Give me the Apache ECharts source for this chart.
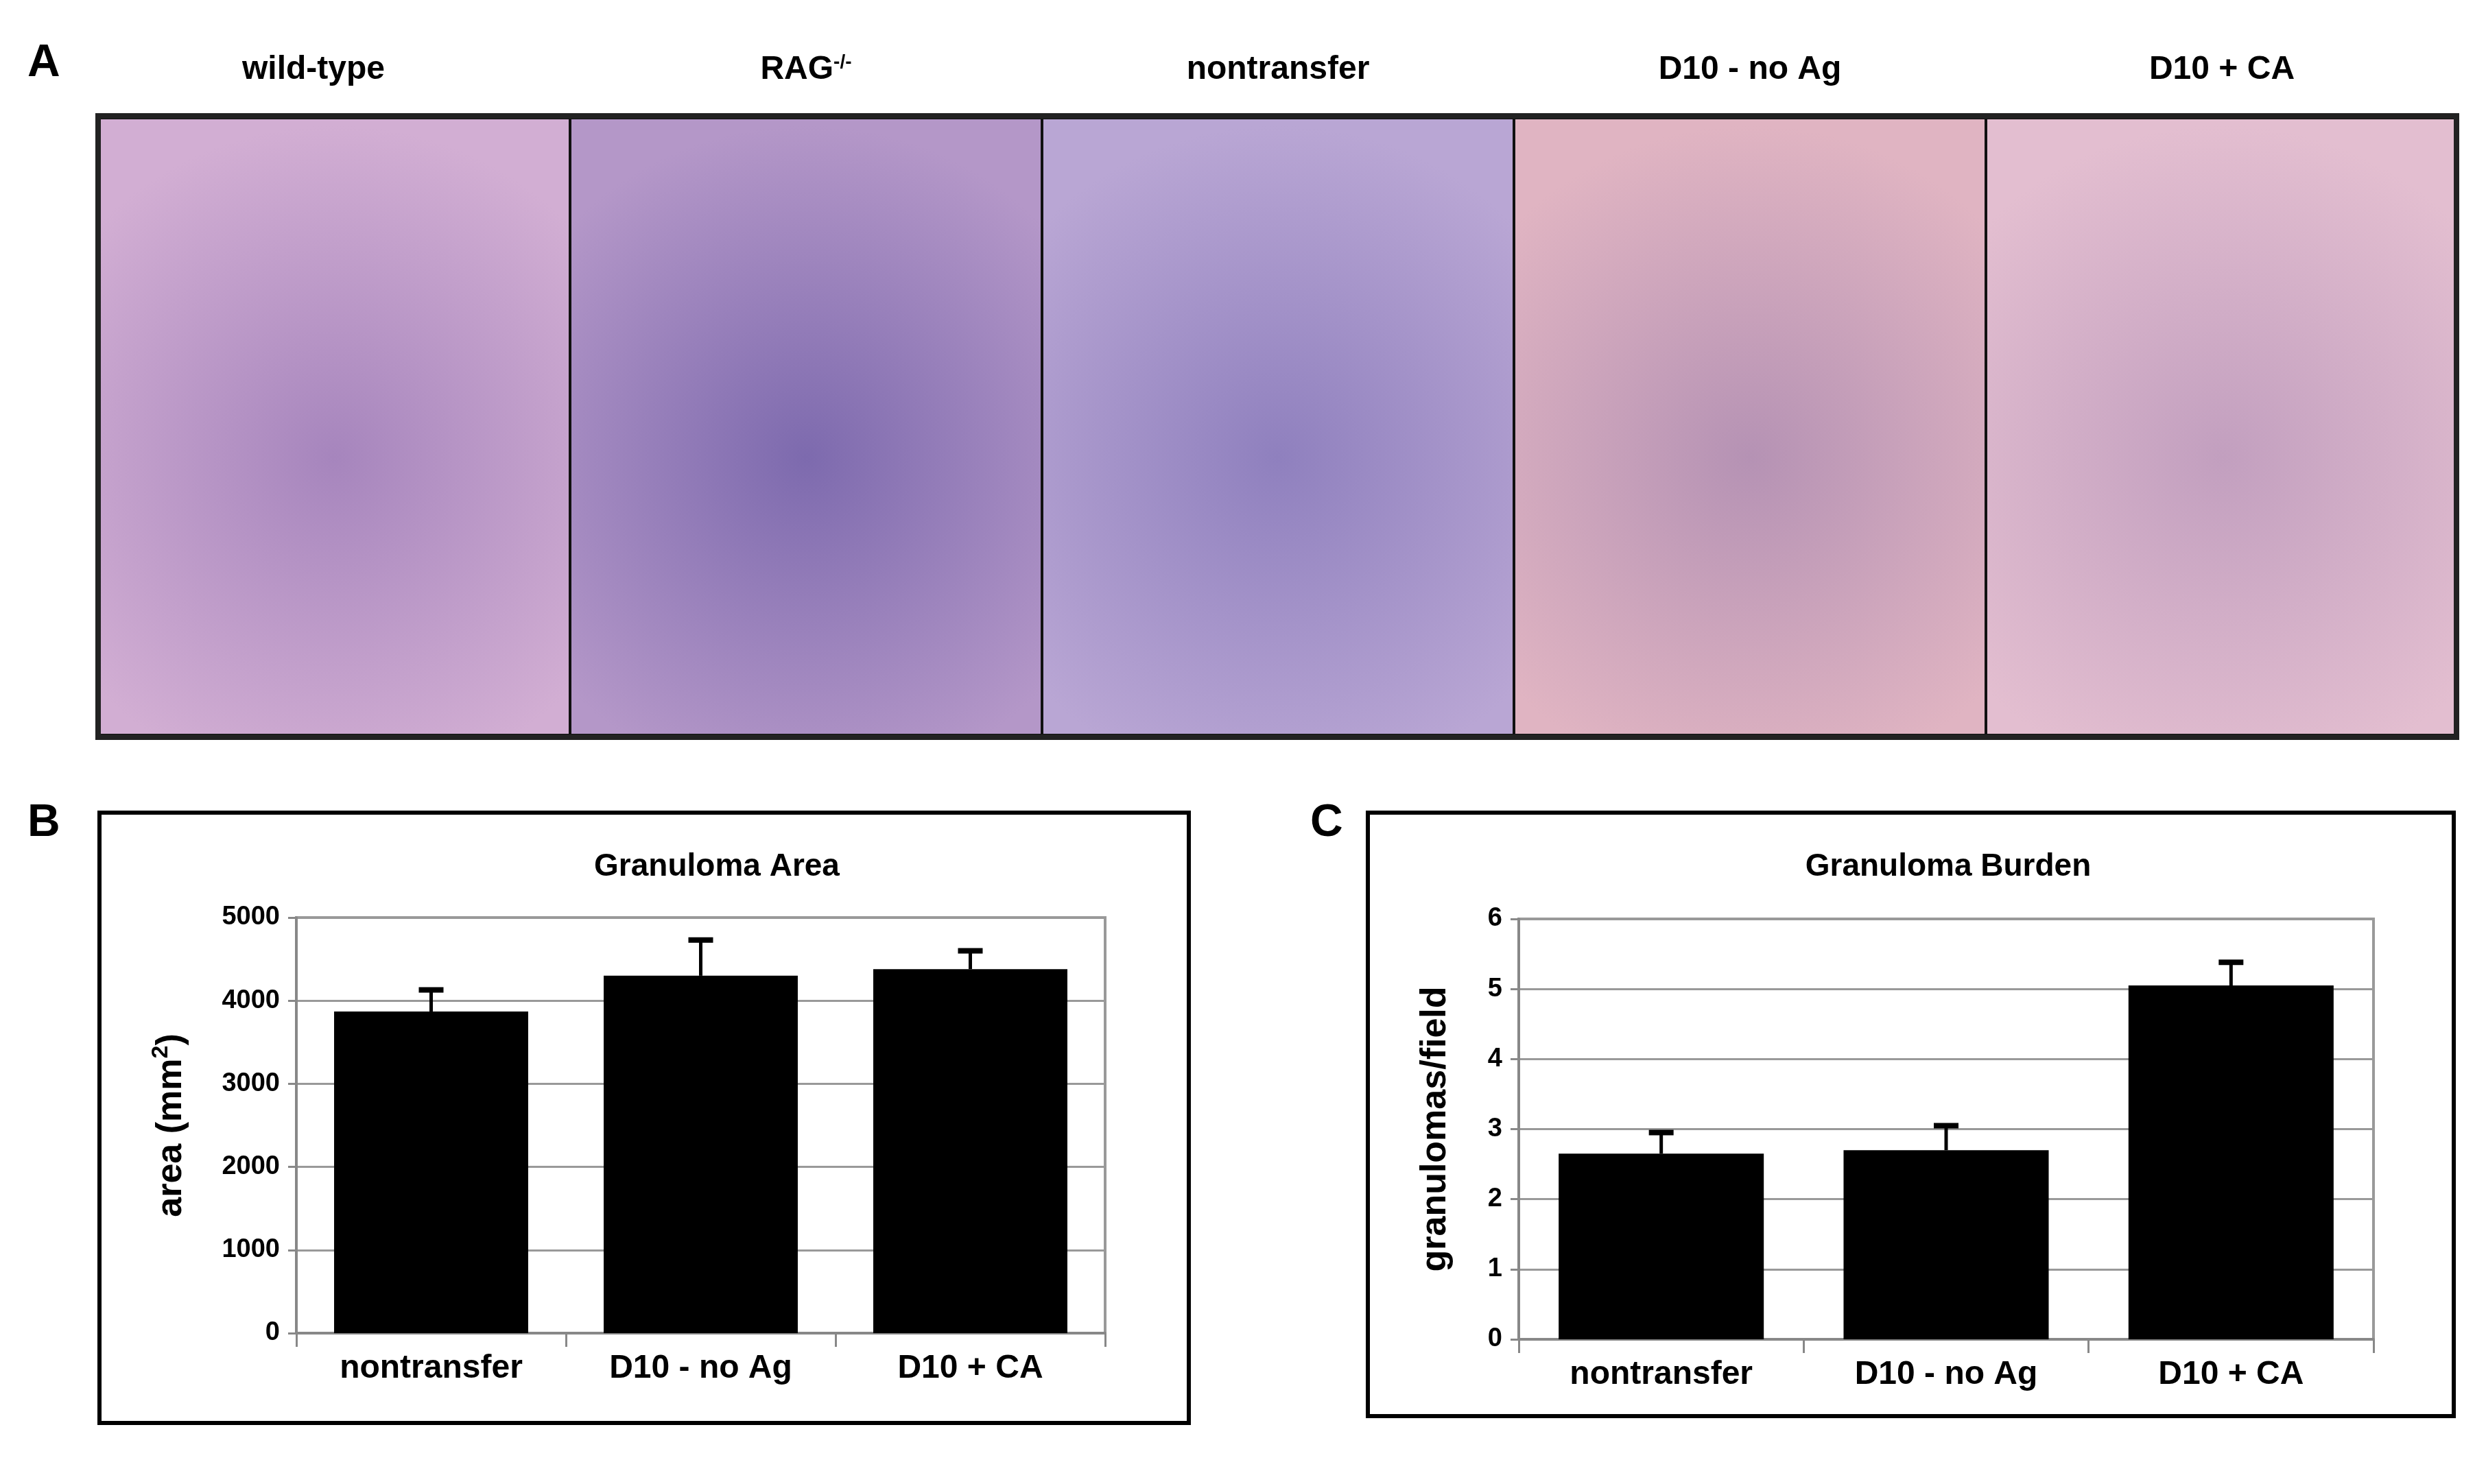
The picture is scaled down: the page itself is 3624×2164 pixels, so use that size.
<!DOCTYPE html>
<html><head><meta charset="utf-8">
<script src="https://cdn.jsdelivr.net/npm/echarts@6/dist/echarts.min.js"></script>
<style>html,body{margin:0;background:#fff}#c{width:3624px;height:2164px}</style>
</head><body><div id="c"></div>
<script>
// panel A titles
var panelTitles = ["wild-type", "RAG{sup|-/-}", "nontransfer", "D10 - no Ag", "D10 + CA"];
var panelColors = [["#d2aed3", "#a685bd"], ["#b497c8", "#7d6aae"], ["#b9a6d4", "#8f80be"], ["#e0b4c2", "#b592b4"], ["#e3bed0", "#c29fbf"]];
// panel B / C
var categories = ["nontransfer", "D10 - no Ag", "D10 + CA"];
var areaMean = [3870, 4300, 4380];
var areaErr = [260, 430, 220];
var burdenMean = [2.65, 2.7, 5.05];
var burdenErr = [0.3, 0.35, 0.33];

var font = "Liberation Sans";
var chart = echarts.init(document.getElementById('c'));

var graphics = [];
graphics.push({type:'text',left:40,top:60,style:{text:'A',font:'bold 66px "Liberation Sans"',fill:'#000'}});
graphics.push({type:'text',left:40,top:1168,style:{text:'B',font:'bold 66px "Liberation Sans"',fill:'#000'}});
graphics.push({type:'text',left:1910,top:1168,style:{text:'C',font:'bold 66px "Liberation Sans"',fill:'#000'}});
var px0 = 143, pw = 688;
for (var i = 0; i < panelTitles.length; i++) {
	graphics.push({type:'rect',shape:{x:px0+i*pw,y:172,width:pw,height:900},
		style:{fill:new echarts.graphic.RadialGradient(0.5,0.55,0.7,[{offset:0,color:panelColors[i][1]},{offset:1,color:panelColors[i][0]}]),stroke:'#111',lineWidth:4}});
	graphics.push({type:'text',x:px0+i*pw+pw/2+(i==0?-30:0),y:102,
		style:{text:panelTitles[i],font:'bold 48px "Liberation Sans"',fill:'#000',align:'center',verticalAlign:'middle',
			rich:{sup:{font:'bold 28px "Liberation Sans"',verticalAlign:'top',padding:[0,0,22,0]}}}});
}
graphics.push({type:'rect',shape:{x:143,y:169,width:3438,height:906},style:{fill:'none',stroke:'#222',lineWidth:8}});
graphics.push({type:'rect',shape:{x:145,y:1185,width:1588,height:890},style:{fill:'none',stroke:'#000',lineWidth:6}});
graphics.push({type:'rect',shape:{x:1994,y:1185,width:1583,height:880},style:{fill:'none',stroke:'#000',lineWidth:6}});
graphics.push({type:'text',x:1045,y:1264,style:{text:'Granuloma Area',font:'bold 46px "Liberation Sans"',align:'center',verticalAlign:'middle',fill:'#000'}});
graphics.push({type:'text',x:2840,y:1264,style:{text:'Granuloma Burden',font:'bold 46px "Liberation Sans"',align:'center',verticalAlign:'middle',fill:'#000'}});

function errSeries(idx, mean, err) {
	return {type:'custom',xAxisIndex:idx,yAxisIndex:idx,z:5,
		data:mean.map(function(m,i){return [i,m,m+err[i]];}),
		renderItem:function(params,api){
			var p0 = api.coord([api.value(0),api.value(1)]);
			var p1 = api.coord([api.value(0),api.value(2)]);
			var st = {stroke:'#000',lineWidth:5};
			return {type:'group',children:[
				{type:'line',shape:{x1:p0[0],y1:p0[1],x2:p1[0],y2:p1[1]},style:st},
				{type:'line',shape:{x1:p1[0]-18,y1:p1[1],x2:p1[0]+18,y2:p1[1]},style:{stroke:'#000',lineWidth:8}}
			]};
		}};
}
function xAx(idx){
	return {type:'category',gridIndex:idx,data:categories,
		axisLine:{lineStyle:{color:'#888',width:4}},axisTick:{show:true,length:20,inside:false,lineStyle:{color:'#888',width:3}},
		axisLabel:{fontFamily:font,fontWeight:'bold',fontSize:48,color:'#000',margin:28}};
}
function yAx(idx,max,interval,name){
	return {type:'value',gridIndex:idx,min:0,max:max,interval:interval,name:name,nameLocation:'middle',nameGap:idx==0?150:95,
		nameTextStyle:{fontFamily:font,fontWeight:'bold',fontSize:52,color:'#000',rich:{s:{fontSize:34,fontWeight:'bold',padding:[0,0,30,0]}}},
		axisLine:{show:true,lineStyle:{color:'#888',width:4}},axisTick:{show:true,length:12,lineStyle:{color:'#888',width:3}},
		axisLabel:{fontFamily:font,fontWeight:'bold',fontSize:38,color:'#000',margin:24,formatter:function(v){return String(v);}},
		splitLine:{lineStyle:{color:'#999',width:3}}};
}

chart.setOption({
	animation:false,
	graphic:graphics,
	grid:[
		{left:432,top:1338,width:1179,height:606,show:true,borderColor:'#999',borderWidth:4,backgroundColor:'#fff'},
		{left:2214,top:1340,width:1246,height:613,show:true,borderColor:'#999',borderWidth:4,backgroundColor:'#fff'}
	],
	xAxis:[xAx(0),xAx(1)],
	yAxis:[yAx(0,5000,1000,'area (mm{s|2})'),yAx(1,6,1,'granulomas/field')],
	series:[
		{type:'bar',xAxisIndex:0,yAxisIndex:0,data:areaMean,barCategoryGap:'28%',itemStyle:{color:'#000'}},
		{type:'bar',xAxisIndex:1,yAxisIndex:1,data:burdenMean,barCategoryGap:'28%',itemStyle:{color:'#000'}},
		errSeries(0,areaMean,areaErr),
		errSeries(1,burdenMean,burdenErr)
	]
});
</script></body></html>
